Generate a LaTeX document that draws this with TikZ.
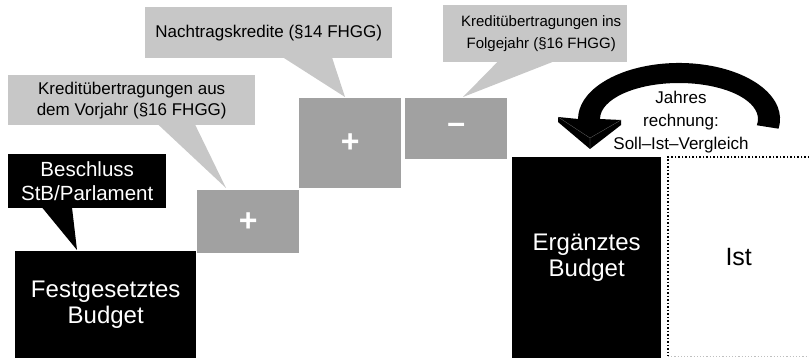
\documentclass[tikz,border=0pt]{standalone}
\usepackage{fontspec}
\setmainfont{Liberation Sans}
\usetikzlibrary{positioning,calc}

\definecolor{callgray}{gray}{0.78}
\definecolor{boxgray}{gray}{0.63}

\begin{document}
\begin{tikzpicture}[x=1pt,y=-1pt,
    blackbox/.style={fill=black,text=white,align=center,inner sep=0pt,
        font=\fontsize{24}{26}\selectfont},
    plusbox/.style={fill=boxgray,text=white,minimum width=102pt,inner sep=0pt,
        font=\fontsize{32}{32}\selectfont\bfseries},
    callbox/.style={fill=callgray,align=center,inner sep=0pt,
        font=\fontsize{17}{21}\selectfont}]
    \useasboundingbox (0,0) rectangle (809,358);

    % budget boxes
    \node[blackbox, minimum width=181pt, minimum height=107pt, anchor=north west] (fest) at (15,251) {Festgesetztes\\Budget};
    \node[plusbox, minimum height=63pt, anchor=north west] (plus1) at (197,190) {+};
    \node[plusbox, minimum height=90pt, anchor=north west] (plus2) at (299,98) {+};
    \node[plusbox, minimum height=61pt, anchor=north west] (minus) at (405,98) {--};
    \node[blackbox, minimum width=149pt, minimum height=201pt, anchor=north west] (erg) at (512,157) {Ergänztes\\Budget};
    \node[minimum width=141pt, minimum height=199pt, anchor=north west,
        font=\fontsize{25}{26}\selectfont] (ist) at (668,157) {Ist};
    \draw[dotted, line width=1.5pt] (ist.north east) -- (ist.north west) -- (ist.south west);
    \draw[dotted, line width=1.2pt, gray!50] (ist.south west) -- (ist.south east);

    % callouts
    \node[blackbox, minimum width=158pt, minimum height=54pt, anchor=north west,
        font=\fontsize{20.5}{24}\selectfont] (beschluss) at (8,154) {Beschluss\\StB/Parlament};
    \node[callbox, minimum width=247pt, minimum height=50pt, anchor=north west] (vorjahr) at (8,75) {Kreditübertragungen aus\\dem Vorjahr (§16 FHGG)};
    \node[callbox, minimum width=247pt, minimum height=51pt, anchor=north west] (nachtrag) at (145,7) {Nachtragskredite (§14 FHGG)};
    \node[callbox, minimum width=184pt, minimum height=57pt, anchor=north west,
        font=\fontsize{15}{22}\selectfont] (folgejahr) at (443,5) {\hspace*{12pt}Kreditübertragungen ins\\\hspace*{12pt}Folgejahr (§16 FHGG)};

    \fill ($(beschluss.south west)+(34,-1)$) -- ($(fest.north west)+(62,-1)$) -- ($(beschluss.south west)+(64,-1)$) -- cycle;
    \fill[callgray] ($(vorjahr.south west)+(150,-1)$) -- ($(plus1.north west)+(29,-2)$) -- ($(vorjahr.south west)+(187,-1)$) -- cycle;
    \fill[callgray] ($(nachtrag.south west)+(138,-1)$) -- ($(plus2.north west)+(46,-1)$) -- ($(nachtrag.south west)+(187,-1)$) -- cycle;
    \fill[callgray] ($(folgejahr.south west)+(55,-1)$) -- ($(minus.north west)+(58,-1)$) -- ($(folgejahr.south west)+(111,-1)$) -- cycle;

    % curved arrow
    \fill (778.5,128.7) arc[start angle=10, end angle=-180, x radius=101, y radius=56]
        -- (558,117) -- (558,122) -- (590,149) -- (621,125) -- (621,120) -- (600,119)
        arc[start angle=-180, end angle=10, x radius=79, y radius=36] -- cycle;
    \draw[gray, very thin] (558,117) -- (590,138) -- (621,120) (590,138) -- (590,149);

    \node[align=center, font=\fontsize{17}{23}\selectfont] (jahres) at (681,122) {Jahres\\rechnung:\\Soll--Ist--Vergleich};
\end{tikzpicture}
\end{document}
